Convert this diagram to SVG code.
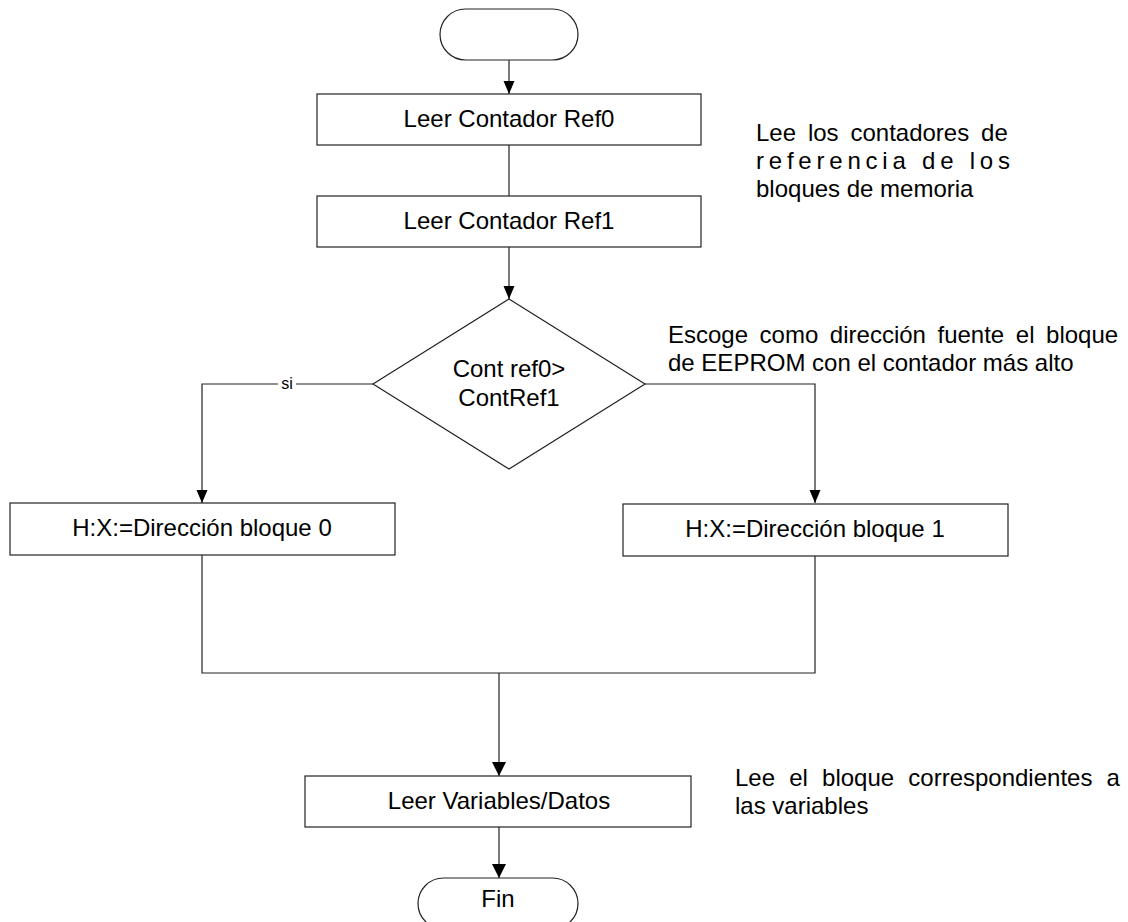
<svg xmlns="http://www.w3.org/2000/svg" width="1128" height="922" viewBox="0 0 1128 922">
<style>
.shape{fill:#fff;stroke:#222;stroke-width:1.2}
.conn{fill:none;stroke:#222;stroke-width:1.2}
.t{font-family:"Liberation Sans",Arial,sans-serif;font-size:24px;fill:#000}
.c{text-anchor:middle}
.s{font-family:"Liberation Sans",Arial,sans-serif;font-size:16px;fill:#000;text-anchor:middle}
</style>
<defs>
<marker id="arr" markerUnits="userSpaceOnUse" markerWidth="14" markerHeight="12" refX="13" refY="5.5" orient="auto">
<path d="M0,0 L13,5.5 L0,11 z" fill="#000"/>
</marker>
<marker id="arrL" markerUnits="userSpaceOnUse" markerWidth="16" markerHeight="16" refX="14" refY="7" orient="auto">
<path d="M0,0 L14,7 L0,14 z" fill="#000"/>
</marker>
</defs>
<rect width="1128" height="922" fill="#fff"/>
<g id="connectors">
<line class="conn" x1="509" y1="60" x2="509" y2="94" marker-end="url(#arr)"/>
<line class="conn" x1="509" y1="145" x2="509" y2="196"/>
<line class="conn" x1="509" y1="247" x2="509" y2="299" marker-end="url(#arr)"/>
<polyline class="conn" points="373,384 202,384 202,503" marker-end="url(#arr)"/>
<polyline class="conn" points="645,384 815,384 815,503" marker-end="url(#arr)"/>
<polyline class="conn" points="202,555 202,673 815,673 815,556"/>
<line class="conn" x1="499" y1="673" x2="499" y2="776" stroke-width="1.6" marker-end="url(#arrL)"/>
<line class="conn" x1="499" y1="827" x2="499" y2="878" stroke-width="1.6" marker-end="url(#arrL)"/>
<g id="label-si">
<rect x="278" y="376" width="18" height="16" fill="#fff"/>
<text class="s" x="287" y="389">si</text>
</g>
</g>
<g id="start">
<rect class="shape" x="440" y="9" width="138" height="51" rx="25.5" ry="25.5"/>
</g>
<g id="leer-ref0">
<rect class="shape" x="317" y="94" width="384" height="51"/>
<text class="t c" x="509" y="127">Leer Contador Ref0</text>
</g>
<g id="leer-ref1">
<rect class="shape" x="317" y="196" width="384" height="51"/>
<text class="t c" x="509" y="229">Leer Contador Ref1</text>
</g>
<g id="decision">
<polygon class="shape" points="509,299 645,384 509,469 373,384"/>
<text class="t c" x="509" y="377">Cont ref0&gt;</text>
<text class="t c" x="509" y="406">ContRef1</text>
</g>
<g id="bloque0">
<rect class="shape" x="10" y="503" width="385" height="52"/>
<text class="t c" x="202" y="536">H:X:=Dirección bloque 0</text>
</g>
<g id="bloque1">
<rect class="shape" x="623" y="504" width="385" height="52"/>
<text class="t c" x="815" y="537">H:X:=Dirección bloque 1</text>
</g>
<g id="leer-datos">
<rect class="shape" x="305" y="776" width="386" height="51"/>
<text class="t c" x="499" y="809">Leer Variables/Datos</text>
</g>
<g id="fin">
<rect class="shape" x="418" y="878" width="160" height="51" rx="25.5" ry="25.5"/>
<text class="t c" x="498" y="907">Fin</text>
</g>
<g id="note-contadores">
<text class="t" x="756" y="141" style="word-spacing:5.2px">Lee los contadores de</text>
<text class="t" x="756" y="169" textLength="254" lengthAdjust="spacing">referencia de los</text>
<text class="t" x="756" y="197">bloques de memoria</text>
</g>
<g id="note-escoge">
<text class="t" x="668" y="343" style="word-spacing:4.9px">Escoge como dirección fuente el bloque</text>
<text class="t" x="668" y="371">de EEPROM con el contador más alto</text>
</g>
<g id="note-variables">
<text class="t" x="735" y="786" style="word-spacing:7.5px">Lee el bloque correspondientes a</text>
<text class="t" x="735" y="814">las variables</text>
</g>
</svg>
